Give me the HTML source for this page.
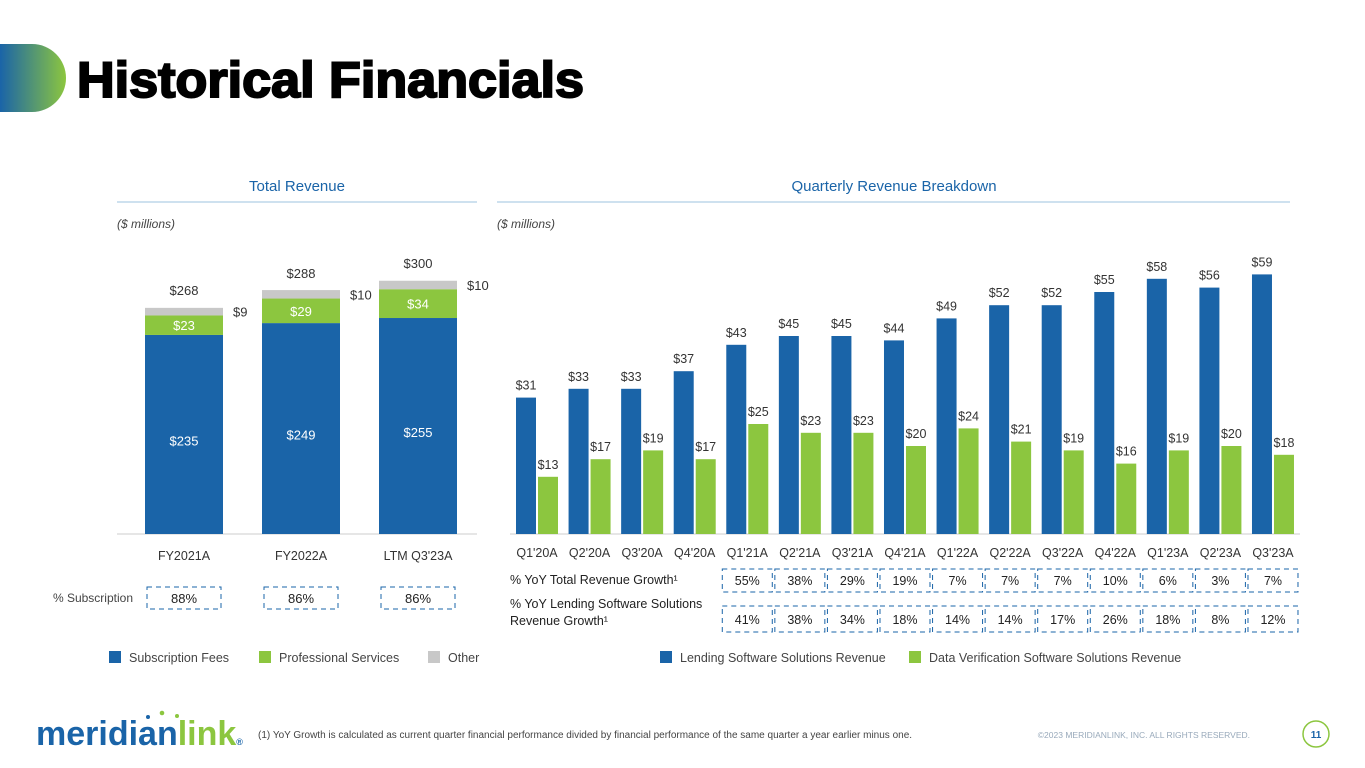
<!DOCTYPE html>
<html><head><meta charset="utf-8"><style>
body{margin:0;width:1365px;height:768px;overflow:hidden;background:#fff;font-family:"Liberation Sans",sans-serif;}
svg{position:absolute;left:0;top:0}
</style></head><body>
<svg id="s" width="1365" height="768" viewBox="0 0 1365 768" xmlns="http://www.w3.org/2000/svg">
<defs><linearGradient id="g" x1="0" x2="1"><stop offset="0" stop-color="#1a64a8"/><stop offset="1" stop-color="#8cc63f"/></linearGradient></defs>
<path d="M0 44 H32 A34 34 0 0 1 32 112 H0 Z" fill="url(#g)"/>
<text x="77" y="97" font-size="50" font-weight="bold" fill="#000" stroke="#000" stroke-width="2" textLength="507" lengthAdjust="spacingAndGlyphs" font-family="Liberation Sans">Historical Financials</text>
<text x="297" y="191" font-size="15" fill="#1a64a8" text-anchor="middle">Total Revenue</text>
<line x1="117" y1="202" x2="477" y2="202" stroke="#9cc3df"/>
<text x="894" y="191" font-size="15" fill="#1a64a8" text-anchor="middle">Quarterly Revenue Breakdown</text>
<line x1="497" y1="202" x2="1290" y2="202" stroke="#9cc3df"/>
<text x="117" y="228" font-size="12" font-style="italic" fill="#444">($ millions)</text>
<text x="497" y="228" font-size="12" font-style="italic" fill="#444">($ millions)</text>
<line x1="117" y1="534" x2="477" y2="534" stroke="#ccc"/>
<line x1="510" y1="534" x2="1300" y2="534" stroke="#ccc"/>
<g id="left"></g><g id="right"></g>
<text x="133" y="602" font-size="12" fill="#444" text-anchor="end">% Subscription</text>
<text x="510" y="584" font-size="12.5" fill="#222">% YoY Total Revenue Growth¹</text>
<text x="510" y="608" font-size="12.5" fill="#222">% YoY Lending Software Solutions</text>
<text x="510" y="625" font-size="12.5" fill="#222">Revenue Growth¹</text>
<g font-size="12.5" fill="#444">
<rect x="109" y="651" width="12" height="12" fill="#1a64a8"/><text x="129" y="662">Subscription Fees</text>
<rect x="259" y="651" width="12" height="12" fill="#8cc63f"/><text x="279" y="662">Professional Services</text>
<rect x="428" y="651" width="12" height="12" fill="#c8c8c8"/><text x="448" y="662">Other</text>
<rect x="660" y="651" width="12" height="12" fill="#1a64a8"/><text x="680" y="662">Lending Software Solutions Revenue</text>
<rect x="909" y="651" width="12" height="12" fill="#8cc63f"/><text x="929" y="662">Data Verification Software Solutions Revenue</text>
</g>
<text x="36" y="745" font-size="34" font-weight="bold" fill="#1a64a8">meridian<tspan fill="#8cc63f">link</tspan><tspan font-size="9">®</tspan></text>
<circle cx="148" cy="717" r="2" fill="#1a64a8"/><circle cx="162" cy="713" r="2.3" fill="#8cc63f"/><circle cx="177" cy="716" r="2" fill="#8cc63f"/>
<text x="258" y="738" font-size="10" fill="#444">(1) YoY Growth is calculated as current quarter financial performance divided by financial performance of the same quarter a year earlier minus one.</text>
<text x="1250" y="738" font-size="8.5" fill="#9ab" text-anchor="end">©2023 MERIDIANLINK, INC. ALL RIGHTS RESERVED.</text>
<circle cx="1316" cy="734" r="13" fill="#fff" stroke="#8cc63f" stroke-width="1.5"/>
<text x="1316" y="738" font-size="10" font-weight="bold" fill="#1a64a8" text-anchor="middle">11</text>
</svg>
<script>
const annCats=["FY2021A","FY2022A","LTM Q3'23A"];
const annSub=[235,249,255];
const annProf=[23,29,34];
const annOther=[9,10,10];
const annTotal=[268,288,300];
const annPct=["88%","86%","86%"];
const qCats=["Q1'20A","Q2'20A","Q3'20A","Q4'20A","Q1'21A","Q2'21A","Q3'21A","Q4'21A","Q1'22A","Q2'22A","Q3'22A","Q4'22A","Q1'23A","Q2'23A","Q3'23A"];
const qLend=[31,33,33,37,43,45,45,44,49,52,52,55,58,56,59];
const qData=[13,17,19,17,25,23,23,20,24,21,19,16,19,20,18];
const yoyTotal=["55%","38%","29%","19%","7%","7%","7%","10%","6%","3%","7%"];
const yoyLend=["41%","38%","34%","18%","14%","14%","17%","26%","18%","8%","12%"];
const NS="http://www.w3.org/2000/svg";
function mk(p,tag,a,txt){const e=document.createElementNS(NS,tag);for(const k in a)e.setAttribute(k,a[k]);if(txt!==undefined)e.textContent=txt;p.appendChild(e);return e;}
const base=534;
const yL=v=>v*0.847, xL=i=>184+i*117;
const L=document.getElementById('left');
annCats.forEach((c,i)=>{
 const x=xL(i)-39;let y=base;
 let r=mk(L,'rect',{x:x,y:y-yL(annSub[i]),width:78,height:yL(annSub[i]),fill:'#1a64a8'});
 
 
 let t=mk(L,'text',{x:xL(i),y:y-yL(annSub[i])/2+5+6,'font-size':13,fill:'#fff','text-anchor':'middle'},'$'+annSub[i]);
 
 
 y-=yL(annSub[i]);
 r=mk(L,'rect',{x:x,y:y-yL(annProf[i]),width:78,height:yL(annProf[i]),fill:'#8cc63f'});
 
 
 t=mk(L,'text',{x:xL(i),y:y-yL(annProf[i])/2+5,'font-size':13,fill:'#fff','text-anchor':'middle'},'$'+annProf[i]);
 
 
 y-=yL(annProf[i]);
 r=mk(L,'rect',{x:x,y:y-yL(annOther[i]),width:78,height:yL(annOther[i]),fill:'#c8c8c8'});
 
 
 t=mk(L,'text',{x:x+88,y:y+1,'font-size':13,fill:'#333'},'$'+annOther[i]);
 
 
 t=mk(L,'text',{x:xL(i),y:base-yL(annTotal[i])-12,'font-size':13,fill:'#333','text-anchor':'middle'},'$'+annTotal[i]);
 
 
 t=mk(L,'text',{x:xL(i),y:560,'font-size':12.5,fill:'#333','text-anchor':'middle'},c);
 
 
 r=mk(L,'rect',{x:xL(i)-37,y:587,width:74,height:22,fill:'none',stroke:'#1a64a8','stroke-dasharray':'5,4'});
 
 
 t=mk(L,'text',{x:xL(i),y:603,'font-size':13,fill:'#222','text-anchor':'middle'},annPct[i]);
 
 
});
const yR=v=>v*4.4, xR=i=>537+i*52.57;
const R=document.getElementById('right');
qCats.forEach((c,i)=>{
 const cx=xR(i);
 let r=mk(R,'rect',{x:cx-21,y:base-yR(qLend[i]),width:20,height:yR(qLend[i]),fill:'#1a64a8'});
 
 
 let t=mk(R,'text',{x:cx-11,y:base-yR(qLend[i])-8,'font-size':12.5,fill:'#333','text-anchor':'middle'},'$'+qLend[i]);
 
 
 r=mk(R,'rect',{x:cx+1,y:base-yR(qData[i]),width:20,height:yR(qData[i]),fill:'#8cc63f'});
 
 
 t=mk(R,'text',{x:cx+11,y:base-yR(qData[i])-8,'font-size':12.5,fill:'#333','text-anchor':'middle'},'$'+qData[i]);
 
 
 t=mk(R,'text',{x:cx,y:557,'font-size':12.5,fill:'#333','text-anchor':'middle'},c);
 
 
});
yoyTotal.forEach((v,j)=>{
 const cx=xR(j+4);
 let r=mk(R,'rect',{x:cx-25,y:569,width:50,height:23,fill:'none',stroke:'#1a64a8','stroke-dasharray':'5,4'});
 
 
 let t=mk(R,'text',{x:cx,y:585,'font-size':12.5,fill:'#222','text-anchor':'middle'},v);
 
 
 r=mk(R,'rect',{x:cx-25,y:606,width:50,height:26,fill:'none',stroke:'#1a64a8','stroke-dasharray':'5,4'});
 
 
 t=mk(R,'text',{x:cx,y:624,'font-size':12.5,fill:'#222','text-anchor':'middle'},yoyLend[j]);
 
 
});
</script>
</body></html>
